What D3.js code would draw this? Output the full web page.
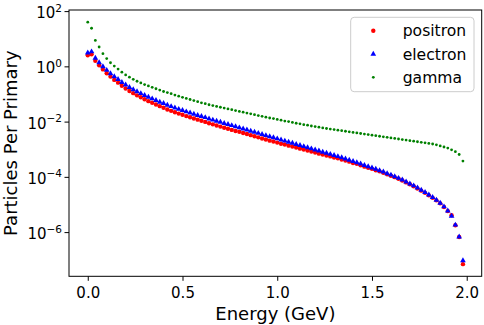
<!DOCTYPE html>
<html><head><meta charset="utf-8">
<script src="https://cdn.jsdelivr.net/npm/d3@7"></script>
<style>
html,body{margin:0;padding:0;background:#fff;}
svg{display:block;font-family:"DejaVu Sans",sans-serif;}
</style></head><body>
<svg id="chart" width="484" height="325"></svg>
<script>
// Energy bins (GeV)
const energy = [
0.00,0.02,0.04,0.06,0.08,0.10,0.12,0.14,0.16,0.18,
0.20,0.22,0.24,0.26,0.28,0.30,0.32,0.34,0.36,0.38,
0.40,0.42,0.44,0.46,0.48,0.50,0.52,0.54,0.56,0.58,
0.60,0.62,0.64,0.66,0.68,0.70,0.72,0.74,0.76,0.78,
0.80,0.82,0.84,0.86,0.88,0.90,0.92,0.94,0.96,0.98,
1.00,1.02,1.04,1.06,1.08,1.10,1.12,1.14,1.16,1.18,
1.20,1.22,1.24,1.26,1.28,1.30,1.32,1.34,1.36,1.38,
1.40,1.42,1.44,1.46,1.48,1.50,1.52,1.54,1.56,1.58,
1.60,1.62,1.64,1.66,1.68,1.70,1.72,1.74,1.76,1.78,
1.80,1.82,1.84,1.86,1.88,1.90,1.92,1.94,1.96,1.98];

// Particles per primary, stored as log10 of the value
const positronLog10 = [
0.40,0.44,0.20,0.04,-0.11,-0.25,-0.37,-0.49,-0.59,-0.70,
-0.80,-0.89,-0.97,-1.05,-1.12,-1.19,-1.26,-1.32,-1.38,-1.44,
-1.50,-1.56,-1.61,-1.66,-1.71,-1.75,-1.80,-1.84,-1.89,-1.93,
-1.97,-2.01,-2.06,-2.10,-2.14,-2.18,-2.22,-2.26,-2.30,-2.34,
-2.37,-2.41,-2.45,-2.49,-2.53,-2.57,-2.61,-2.65,-2.69,-2.72,
-2.76,-2.80,-2.83,-2.87,-2.90,-2.94,-2.98,-3.01,-3.05,-3.08,
-3.12,-3.16,-3.19,-3.23,-3.26,-3.30,-3.33,-3.37,-3.41,-3.45,
-3.50,-3.53,-3.58,-3.63,-3.67,-3.71,-3.76,-3.80,-3.85,-3.91,
-3.96,-4.01,-4.07,-4.13,-4.20,-4.27,-4.34,-4.42,-4.50,-4.58,
-4.67,-4.76,-4.85,-4.96,-5.09,-5.24,-5.39,-5.75,-6.18,-7.16];

const electronLog10 = [
0.49,0.53,0.30,0.14,-0.01,-0.14,-0.26,-0.37,-0.47,-0.58,
-0.67,-0.76,-0.84,-0.91,-0.98,-1.05,-1.11,-1.17,-1.23,-1.29,
-1.34,-1.40,-1.45,-1.50,-1.55,-1.59,-1.64,-1.68,-1.73,-1.77,
-1.81,-1.85,-1.90,-1.94,-1.98,-2.02,-2.06,-2.10,-2.14,-2.18,
-2.22,-2.26,-2.30,-2.34,-2.38,-2.42,-2.46,-2.50,-2.54,-2.58,
-2.62,-2.66,-2.70,-2.74,-2.78,-2.82,-2.86,-2.90,-2.94,-2.98,
-3.02,-3.06,-3.10,-3.14,-3.18,-3.22,-3.26,-3.30,-3.35,-3.39,
-3.44,-3.48,-3.53,-3.58,-3.63,-3.67,-3.72,-3.77,-3.82,-3.88,
-3.93,-3.99,-4.05,-4.11,-4.18,-4.25,-4.32,-4.40,-4.48,-4.56,
-4.65,-4.74,-4.84,-4.95,-5.08,-5.23,-5.42,-5.74,-6.17,-7.03];

const gammaLog10 = [
1.60,1.38,0.94,0.70,0.46,0.28,0.13,0.01,-0.10,-0.21,
-0.31,-0.39,-0.47,-0.54,-0.60,-0.66,-0.71,-0.76,-0.81,-0.86,
-0.91,-0.95,-0.99,-1.04,-1.08,-1.12,-1.16,-1.20,-1.24,-1.28,
-1.32,-1.35,-1.39,-1.42,-1.45,-1.48,-1.51,-1.54,-1.57,-1.60,
-1.63,-1.66,-1.69,-1.72,-1.75,-1.78,-1.81,-1.84,-1.87,-1.89,
-1.92,-1.95,-1.98,-2.00,-2.03,-2.06,-2.08,-2.11,-2.13,-2.16,
-2.18,-2.20,-2.23,-2.25,-2.27,-2.29,-2.31,-2.33,-2.35,-2.37,
-2.39,-2.41,-2.43,-2.45,-2.47,-2.49,-2.51,-2.53,-2.55,-2.57,
-2.59,-2.61,-2.63,-2.65,-2.67,-2.69,-2.71,-2.73,-2.75,-2.77,
-2.79,-2.81,-2.84,-2.88,-2.92,-2.96,-3.02,-3.09,-3.19,-3.43];

const seriesNames = ["positron", "electron", "gamma"];
const xTickValues = [0.0, 0.5, 1.0, 1.5, 2.0];
const yTickExponents = [2, 0, -2, -4, -6];
const xLabel = "Energy (GeV)";
const yLabel = "Particles Per Primary";

const svg = d3.select("#chart");
const plot = {left: 69, right: 481.7, top: 10, bottom: 276.3};

const x = d3.scaleLinear().domain([-0.099, 2.079]).range([plot.left, plot.right]);
const y = d3.scaleLog().domain([Math.pow(10, -7.60), Math.pow(10, 2.04)]).range([plot.bottom, plot.top]);

const toPoints = logs => logs.map((v, i) => ({e: energy[i], v: Math.pow(10, v)}));
const series = [
  {name: seriesNames[0], pts: toPoints(positronLog10), color: "#ff0000", shape: "circle", r: 2.2},
  {name: seriesNames[1], pts: toPoints(electronLog10), color: "#0000ff", shape: "triangle", r: 14},
  {name: seriesNames[2], pts: toPoints(gammaLog10), color: "#008000", shape: "dot", r: 1.4}
];

const clipId = "clip";
svg.append("defs").append("clipPath").attr("id", clipId).append("rect")
  .attr("x", plot.left).attr("y", plot.top)
  .attr("width", plot.right - plot.left).attr("height", plot.bottom - plot.top);

const marks = svg.append("g").attr("clip-path", `url(#${clipId})`);
const tri = d3.symbol().type(d3.symbolTriangle);

function drawMarker(g, s, cx, cy) {
  if (s.shape === "triangle") {
    g.append("path").attr("d", tri.size(s.r)()).attr("transform", `translate(${cx},${cy})`)
      .attr("fill", s.color);
  } else {
    g.append("circle").attr("cx", cx).attr("cy", cy).attr("r", s.r).attr("fill", s.color);
  }
}

series.forEach(s => {
  const g = marks.append("g");
  s.pts.forEach(p => drawMarker(g, s, x(p.e), y(p.v)));
});

// Axes
const xAxis = d3.axisBottom(x).tickValues(xTickValues).tickSize(4.5).tickPadding(4).tickFormat(d3.format(".1f"));
const gx = svg.append("g").attr("transform", `translate(0,${plot.bottom})`).call(xAxis);
gx.select(".domain").remove();
gx.selectAll(".tick line").attr("stroke", "#000").attr("stroke-width", 1);
gx.selectAll(".tick text").attr("font-size", 15).attr("fill", "#000")
  .attr("font-family", "DejaVu Sans").attr("dy", null).attr("y", 21.3);

const yAxis = d3.axisLeft(y).tickValues(yTickExponents.map(e => Math.pow(10, e))).tickSize(4.5).tickFormat(() => "");
const gy = svg.append("g").attr("transform", `translate(${plot.left},0)`).call(yAxis);
gy.select(".domain").remove();
gy.selectAll(".tick line").attr("stroke", "#000").attr("stroke-width", 1);
gy.selectAll(".tick text").remove();
gy.selectAll(".tick").each(function(d, i) {
  const exp = yTickExponents[i];
  const t = d3.select(this).append("text")
    .attr("x", -7).attr("y", 6.6).attr("text-anchor", "end")
    .attr("fill", "#000").attr("font-family", "DejaVu Sans").attr("font-size", 15);
  t.append("tspan").text("10");
  t.append("tspan").attr("dy", -6.6).attr("font-size", 10.5)
    .text(exp < 0 ? "\u2212" + Math.abs(exp) : String(exp));
});

// Frame
svg.append("rect").attr("x", plot.left).attr("y", plot.top)
  .attr("width", plot.right - plot.left).attr("height", plot.bottom - plot.top)
  .attr("fill", "none").attr("stroke", "#000").attr("stroke-width", 1);

// Axis labels
svg.append("text").attr("x", (plot.left + plot.right) / 2).attr("y", 319.5)
  .attr("text-anchor", "middle").attr("font-size", 18).attr("fill", "#000").text(xLabel);
svg.append("text").attr("transform", `translate(16.5,${(plot.top + plot.bottom) / 2}) rotate(-90)`)
  .attr("text-anchor", "middle").attr("font-size", 18).attr("fill", "#000").text(yLabel);

// Legend
const lg = svg.append("g");
lg.append("rect").attr("x", 350.7).attr("y", 17.3).attr("width", 123.3).attr("height", 74.4)
  .attr("rx", 3.5).attr("fill", "#fff").attr("fill-opacity", 0.8)
  .attr("stroke", "#cccccc").attr("stroke-width", 1);
series.forEach((s, i) => {
  const cy = 30.7 + i * 23.3;
  drawMarker(lg, s, 373.3, cy);
  lg.append("text").attr("x", 402.7).attr("y", cy + 5.6).attr("font-size", 15.6)
    .attr("fill", "#000").text(s.name);
});
</script>
</body></html>
